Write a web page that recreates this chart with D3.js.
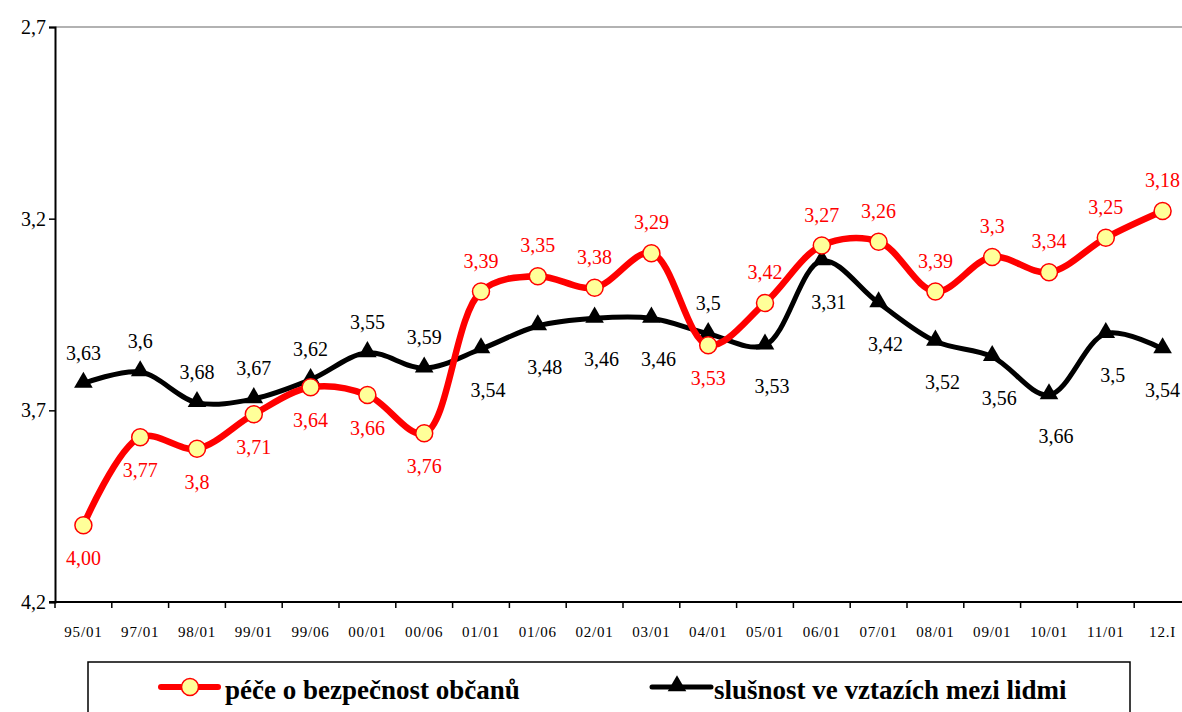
<!DOCTYPE html>
<html>
<head>
<meta charset="utf-8">
<script src="https://cdn.jsdelivr.net/npm/d3@7"></script>
<style>
  body { margin: 0; background: #fff; }
  svg text { font-family: "Liberation Serif", "Times New Roman", serif; }
</style>
</head>
<body>
<div id="content"></div>
<script>
// Data-set.
var periods = ['95/01', '97/01', '98/01', '99/01', '99/06', '00/01', '00/06', '01/01', '01/06', '02/01',
               '03/01', '04/01', '05/01', '06/01', '07/01', '08/01', '09/01', '10/01', '11/01', '12.I'];
var pece = [4.00, 3.77, 3.8, 3.71, 3.64, 3.66, 3.76, 3.39, 3.35, 3.38,
            3.29, 3.53, 3.42, 3.27, 3.26, 3.39, 3.3, 3.34, 3.25, 3.18];
var slusnost = [3.63, 3.6, 3.68, 3.67, 3.62, 3.55, 3.59, 3.54, 3.48, 3.46,
                3.46, 3.5, 3.53, 3.31, 3.42, 3.52, 3.56, 3.66, 3.5, 3.54];
// Where each data label sits: above (a) or below (b) its point.
var peceLabelSide = ['b', 'b', 'b', 'b', 'b', 'b', 'b', 'a', 'a', 'a',
                     'a', 'b', 'a', 'a', 'a', 'a', 'a', 'a', 'a', 'a'];
var slusnostLabelSide = ['a', 'a', 'a', 'a', 'a', 'a', 'a', 'b', 'b', 'b',
                         'b', 'a', 'b', 'b', 'b', 'b', 'b', 'b', 'b', 'b'];
var yTicks = [2.7, 3.2, 3.7, 4.2];
var seriesNames = ['péče o bezpečnost občanů', 'slušnost ve vztazích mezi lidmi'];

var W = 1182, H = 712;
var serif = '"Liberation Serif", "Times New Roman", serif';
var svg = d3.select('#content').append('svg').attr('width', W).attr('height', H);

var plot = {left : 55, top : 27, bottom : 602, right : 1191};

var x = d3.scaleBand().domain(periods).range([plot.left, plot.right]);
var y = d3.scaleLinear().domain([2.7, 4.2]).range([plot.top, plot.bottom]);

function fmt(v) { return String(v).replace('.', ','); }

// Top border of plot area.
svg.append('line')
    .attr('x1', plot.left).attr('x2', W).attr('y1', plot.top).attr('y2', plot.top)
    .attr('stroke', '#999').attr('stroke-width', 1.5);

// Y axis.
var yAxis = svg.append('g')
    .attr('transform', 'translate(' + plot.left + ',0)')
    .call(d3.axisLeft(y).tickValues(yTicks).tickSize(6).tickFormat(fmt));
yAxis.attr('font-family', serif);
yAxis.select('.domain').attr('stroke', '#000').attr('stroke-width', 2);
yAxis.selectAll('.tick line').attr('stroke', '#000').attr('stroke-width', 1.5);
yAxis.selectAll('.tick text')
    .attr('font-size', 20).attr('fill', '#000').attr('x', -9);

// X axis: ticks between categories.
svg.append('line')
    .attr('x1', plot.left - 6).attr('x2', W).attr('y1', plot.bottom).attr('y2', plot.bottom)
    .attr('stroke', '#000').attr('stroke-width', 2);
var xg = svg.append('g').attr('font-family', serif);
xg.selectAll('line.sep')
    .data(periods)
    .enter().append('line')
    .attr('x1', function(d) { return x(d); })
    .attr('x2', function(d) { return x(d); })
    .attr('y1', plot.bottom).attr('y2', plot.bottom + 6)
    .attr('stroke', '#000').attr('stroke-width', 1.5);
xg.selectAll('text')
    .data(periods)
    .enter().append('text')
    .attr('x', function(d) { return x(d) + x.bandwidth() / 2; })
    .attr('y', plot.bottom + 35)
    .attr('text-anchor', 'middle')
    .attr('font-size', 15)
    .attr('letter-spacing', 0.8)
    .text(function(d) { return d; });

var cx = function(i) { return x(periods[i]) + x.bandwidth() / 2; };
var line = d3.line()
    .x(function(d, i) { return cx(i); })
    .y(function(d) { return y(d); })
    .curve(d3.curveCatmullRom.alpha(0.5));

// Black series.
svg.append('path').datum(slusnost)
    .attr('d', line).attr('fill', 'none')
    .attr('stroke', '#000').attr('stroke-width', 5).attr('stroke-linejoin', 'round');
var tri = d3.symbol().type(d3.symbolTriangle).size(150);
svg.selectAll('path.tri')
    .data(slusnost)
    .enter().append('path')
    .attr('class', 'tri')
    .attr('d', tri)
    .attr('transform', function(d, i) { return 'translate(' + cx(i) + ',' + (y(d) - 1) + ')'; })
    .attr('fill', '#000');

// Red series.
svg.append('path').datum(pece)
    .attr('d', line).attr('fill', 'none')
    .attr('stroke', '#ff0000').attr('stroke-width', 6.5).attr('stroke-linejoin', 'round');
svg.selectAll('circle.pt')
    .data(pece)
    .enter().append('circle')
    .attr('class', 'pt')
    .attr('cx', function(d, i) { return cx(i); })
    .attr('cy', function(d) { return y(d); })
    .attr('r', 8.5)
    .attr('fill', '#ffff99').attr('stroke', '#ff0000').attr('stroke-width', 1.5);

// Data labels.
var labels = svg.append('g').attr('font-family', serif).attr('font-size', 20);
labels.selectAll('text.lb')
    .data(slusnost)
    .enter().append('text')
    .attr('class', 'lb')
    .attr('x', function(d, i) {
      return cx(i) + (slusnostLabelSide[i] === 'b' && i < periods.length - 1 ? 7 : 0);
    })
    .attr('y', function(d, i) { return y(d) + (slusnostLabelSide[i] === 'a' ? -24 : 48); })
    .attr('text-anchor', 'middle')
    .attr('fill', '#000')
    .text(fmt);

labels.selectAll('text.lr')
    .data(pece)
    .enter().append('text')
    .attr('class', 'lr')
    .attr('x', function(d, i) { return cx(i); })
    .attr('y', function(d, i) { return y(d) + (peceLabelSide[i] === 'a' ? -24 : 40); })
    .attr('text-anchor', 'middle')
    .attr('fill', '#ff0000')
    .text(function(d, i) { return i === 0 ? '4,00' : fmt(d); });

// Legend.
svg.append('rect')
    .attr('x', 88).attr('y', 662).attr('width', 1042).attr('height', 70)
    .attr('fill', '#fff').attr('stroke', '#000').attr('stroke-width', 1.5);

var lg = svg.append('g').attr('font-family', serif);
lg.append('line').attr('x1', 161).attr('x2', 218).attr('y1', 687).attr('y2', 687)
    .attr('stroke', '#ff0000').attr('stroke-width', 6).attr('stroke-linecap', 'round');
lg.append('circle').attr('cx', 190).attr('cy', 687).attr('r', 8.5)
    .attr('fill', '#ffff99').attr('stroke', '#ff0000').attr('stroke-width', 1.5);
lg.append('text').attr('x', 225).attr('y', 699)
    .attr('font-size', 27).attr('font-weight', 'bold').text(seriesNames[0]);

lg.append('line').attr('x1', 652).attr('x2', 711).attr('y1', 687).attr('y2', 687)
    .attr('stroke', '#000').attr('stroke-width', 5).attr('stroke-linecap', 'round');
lg.append('path').attr('d', tri).attr('transform', 'translate(677,686)').attr('fill', '#000');
lg.append('text').attr('x', 714).attr('y', 699)
    .attr('font-size', 27).attr('font-weight', 'bold').text(seriesNames[1]);
</script>
</body>
</html>
